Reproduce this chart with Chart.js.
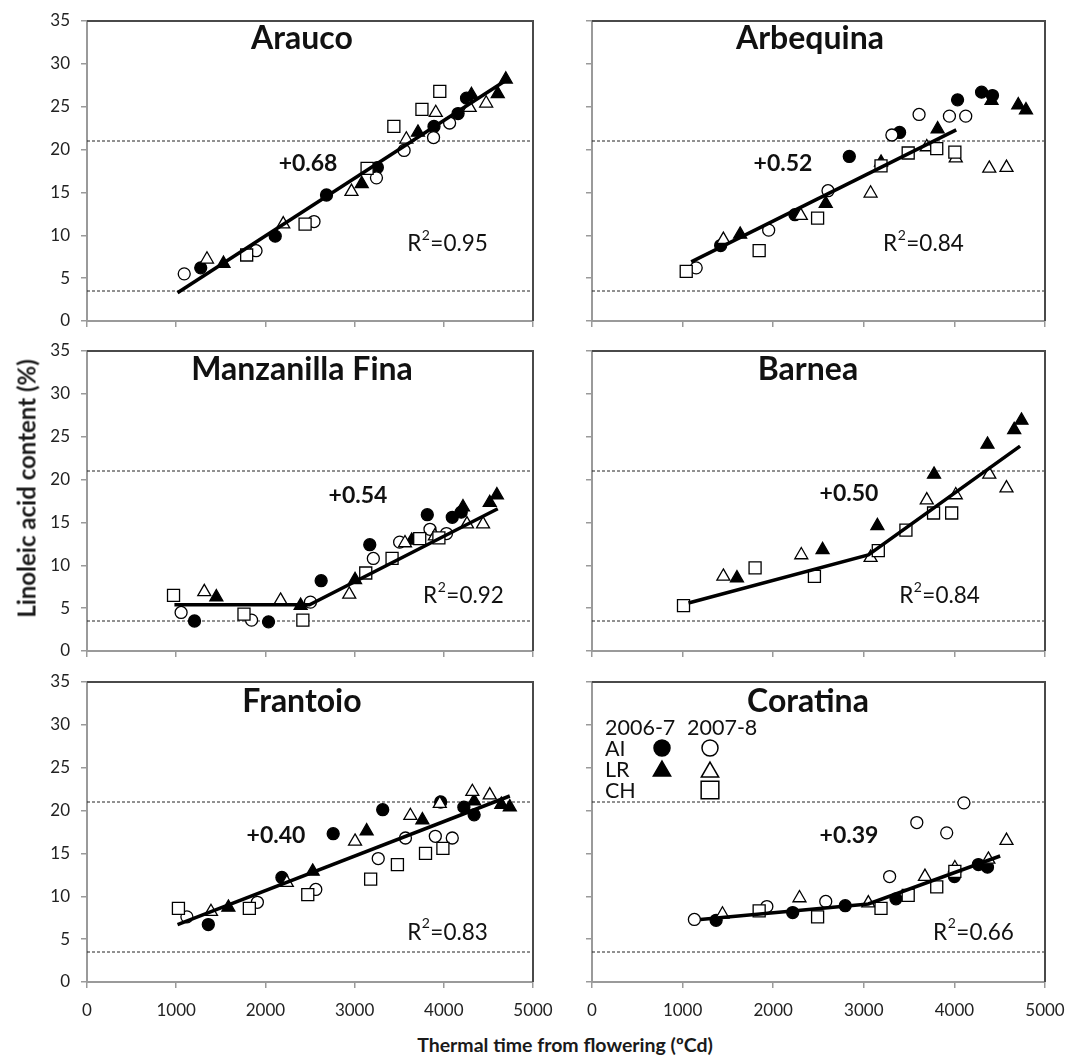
<!DOCTYPE html>
<html>
<head>
<meta charset="utf-8">
<script src="https://cdn.jsdelivr.net/npm/chart.js@4.4.0/dist/chart.umd.min.js"></script>
<style>
  body { margin: 0; background: #fff; font-family: Lato, sans-serif; }
  #page { position: relative; width: 1067px; height: 1064px; overflow: hidden; background: #fff; }
  #page canvas { position: absolute; }
  .axis-title { position: absolute; font-weight: bold; color: #1a1a1a; text-align: center; white-space: nowrap; }
  #ytitle { left: -174px; top: 474px; width: 400px; font-size: 24px; line-height: 29px; transform: rotate(-90deg); }
  #xtitle { left: 365px; top: 1033px; width: 400px; font-size: 19.5px; line-height: 24px; }
</style>
</head>
<body>
<div id="page">
  <canvas id="c0"></canvas>
  <canvas id="c1"></canvas>
  <canvas id="c2"></canvas>
  <canvas id="c3"></canvas>
  <canvas id="c4"></canvas>
  <canvas id="c5"></canvas>
  <div id="ytitle" class="axis-title">Linoleic acid content (%)</div>
  <div id="xtitle" class="axis-title">Thermal time from flowering (ºCd)</div>
</div>
<script>
// [thermal time ºCd, linoleic acid %]
// AI = filled/open circle, LR = filled/open triangle, CH = open square ; 06 = 2006-7, 07 = 2007-8

// Arauco
const araucoAI06 = [[1275,6.2],[2110,9.9],[2685,14.7],[3255,17.9],[3890,22.7],[4160,24.2],[4255,26.0]];
const araucoAI07 = [[1090,5.5],[1895,8.2],[2545,11.6],[3245,16.7],[3555,19.9],[3885,21.4],[4065,23.1]];
const araucoLR06 = [[1530,6.7],[3080,16.0],[3710,22.0],[4310,26.4],[4605,26.5],[4695,28.2]];
const araucoLR07 = [[1345,7.2],[2200,11.3],[2965,15.1],[3580,21.2],[3910,24.3],[4290,24.9],[4475,25.4]];
const araucoCH07 = [[1790,7.7],[2445,11.3],[3140,17.8],[3440,22.7],[3755,24.7],[3955,26.8]];
const araucoFit = [[1015,3.3],[4685,28.0]];

// Arbequina
const arbequinaAI06 = [[1420,8.8],[2240,12.4],[2840,19.2],[3395,22.0],[4035,25.8],[4300,26.7],[4420,26.3]];
const arbequinaAI07 = [[1150,6.2],[1950,10.6],[2605,15.2],[3310,21.7],[3610,24.1],[3945,23.9],[4125,23.9]];
const arbequinaLR06 = [[1635,10.1],[2580,13.7],[3190,18.5],[3815,22.4],[4410,25.7],[4705,25.2],[4790,24.6]];
const arbequinaLR07 = [[1450,9.5],[2305,12.3],[3075,14.9],[3695,20.3],[4015,19.0],[4385,17.8],[4575,17.9]];
const arbequinaCH07 = [[1040,5.8],[1845,8.2],[2490,12.0],[3190,18.1],[3490,19.6],[3805,20.1],[4005,19.7]];
const arbequinaFit = [[1095,6.9],[4020,22.3]];

// Manzanilla Fina
const manzanillaAI06 = [[1205,3.5],[2035,3.4],[2625,8.2],[3170,12.4],[3815,15.9],[4095,15.6],[4195,16.2]];
const manzanillaAI07 = [[1055,4.5],[1845,3.6],[2505,5.7],[3210,10.8],[3505,12.7],[3845,14.2],[4030,13.7]];
const manzanillaLR06 = [[1450,6.3],[2395,5.3],[3005,8.3],[3640,12.9],[4215,16.8],[4515,17.3],[4595,18.2]];
const manzanillaLR07 = [[1315,6.9],[2170,5.9],[2940,6.6],[3565,12.6],[3900,13.4],[4260,14.8],[4440,14.8]];
const manzanillaCH07 = [[970,6.5],[1760,4.3],[2420,3.6],[3125,9.1],[3420,10.8],[3730,13.1],[3945,13.2]];
const manzanillaFit = [[980,5.4],[2495,5.4],[4605,16.6]];

// Barnea
const barneaAI06 = [];
const barneaAI07 = [];
const barneaLR06 = [[1600,8.5],[2545,11.8],[3150,14.6],[3775,20.6],[4365,24.1],[4660,25.8],[4740,26.9]];
const barneaLR07 = [[1450,8.7],[2310,11.2],[3075,10.9],[3695,17.6],[4015,18.2],[4385,20.6],[4575,19.0]];
const barneaCH07 = [[1010,5.3],[1800,9.7],[2455,8.7],[3160,11.7],[3465,14.1],[3770,16.1],[3970,16.1]];
const barneaFit = [[1065,5.6],[3050,11.2],[4725,23.9]];

// Frantoio
const frantoioAI06 = [[1360,6.7],[2185,12.2],[2760,17.3],[3315,20.1],[3965,21.0],[4225,20.4],[4340,19.5]];
const frantoioAI07 = [[1120,7.6],[1910,9.3],[2565,10.8],[3265,14.4],[3570,16.8],[3905,17.0],[4095,16.8]];
const frantoioLR06 = [[1585,8.7],[2530,12.9],[3135,17.6],[3760,18.9],[4340,21.1],[4645,20.7],[4740,20.4]];
const frantoioLR07 = [[1390,8.2],[2240,11.6],[3005,16.4],[3625,19.4],[3955,20.8],[4320,22.2],[4515,21.8]];
const frantoioCH07 = [[1025,8.6],[1820,8.6],[2475,10.2],[3180,12.0],[3480,13.7],[3795,15.0],[3990,15.6]];
const frantoioFit = [[1015,6.7],[4740,21.7]];

// Coratina
const coratinaAI06 = [[1370,7.2],[2215,8.1],[2795,8.9],[3355,9.7],[4000,12.3],[4265,13.7],[4365,13.4]];
const coratinaAI07 = [[1130,7.3],[1930,8.8],[2580,9.4],[3285,12.3],[3585,18.6],[3915,17.4],[4105,20.9]];
const coratinaLR06 = [];
const coratinaLR07 = [[1440,7.9],[2290,9.8],[3050,9.2],[3675,12.3],[4005,13.3],[4375,14.3],[4575,16.5]];
const coratinaCH07 = [[1845,8.3],[2490,7.6],[3190,8.6],[3490,10.1],[3805,11.1],[4005,12.9]];
const coratinaFit = [[1195,7.3],[3050,9.1],[4505,14.7]];

const slopes = ['+0.68', '+0.52', '+0.54', '+0.50', '+0.40', '+0.39'];
const r2Values = ['0.95', '0.84', '0.92', '0.84', '0.83', '0.66'];
const xTicks = [0, 1000, 2000, 3000, 4000, 5000];
const yTicks = [0, 5, 10, 15, 20, 25, 30, 35];
const refLines = [21, 3.5];   // dashed horizontal reference levels

const panels = [
  { name: 'Arauco', series: [araucoAI06, araucoAI07, araucoLR06, araucoLR07, araucoCH07], fit: araucoFit,
    titleAt: [2410, 33.1], slopeAt: [2478, 18.5], r2At: [4036, 9.1] },
  { name: 'Arbequina', series: [arbequinaAI06, arbequinaAI07, arbequinaLR06, arbequinaLR07, arbequinaCH07], fit: arbequinaFit,
    titleAt: [2406, 33.1], slopeAt: [2108, 18.5], r2At: [3653, 9.1] },
  { name: 'Manzanilla Fina', series: [manzanillaAI06, manzanillaAI07, manzanillaLR06, manzanillaLR07, manzanillaCH07], fit: manzanillaFit,
    titleAt: [2410, 33.0], slopeAt: [3038, 18.2], r2At: [4215, 6.5] },
  { name: 'Barnea', series: [barneaAI06, barneaAI07, barneaLR06, barneaLR07, barneaCH07], fit: barneaFit,
    titleAt: [2384, 33.0], slopeAt: [2837, 18.5], r2At: [3830, 6.5] },
  { name: 'Frantoio', series: [frantoioAI06, frantoioAI07, frantoioLR06, frantoioLR07, frantoioCH07], fit: frantoioFit,
    titleAt: [2410, 32.8], slopeAt: [2119, 17.2], r2At: [4036, 5.9] },
  { name: 'Coratina', series: [coratinaAI06, coratinaAI07, coratinaLR06, coratinaLR07, coratinaCH07], fit: coratinaFit,
    titleAt: [2384, 32.8], slopeAt: [2837, 17.2], r2At: [4205, 5.9], legend: true }
];

// marker look for each series, same order as panel.series
const markerStyles = [
  { pointStyle: 'circle',   radius: 6,   fill: '#000' },
  { pointStyle: 'circle',   radius: 6,   fill: '#fff' },
  { pointStyle: 'triangle', radius: 7.5, fill: '#000' },
  { pointStyle: 'triangle', radius: 7.5, fill: '#fff' },
  { pointStyle: 'rect',     radius: 8.5, fill: '#fff' }
];

// plot-area placement of the 3x2 grid
const colLeft = [87, 592];
const colWidth = [446, 453];
const rowTop = [21, 351, 682];
const plotHeight = 300;
const padL = 60, padT = 15, padR = 30, padB = 45;

const toXY = arr => arr.map(p => ({ x: p[0], y: p[1] }));

// gray frame: top and right edges are darker than the axes
const framePlugin = {
  id: 'frame',
  afterDraw(chart) {
    const { ctx, chartArea: a } = chart;
    ctx.save();
    ctx.strokeStyle = '#4a4a4a';
    ctx.lineWidth = 2;
    ctx.beginPath();
    ctx.moveTo(a.left, a.top);
    ctx.lineTo(a.right, a.top);
    ctx.lineTo(a.right, a.bottom);
    ctx.stroke();
    ctx.restore();
  }
};

// text whose cap height is centred on cy
function capText(ctx, text, x, cy, size, weight) {
  ctx.font = (weight || '') + ' ' + size + 'px Lato';
  ctx.textBaseline = 'alphabetic';
  ctx.fillText(text, x, cy + size * 0.36);
}

// cultivar name, slope and R² labels
const labelPlugin = {
  id: 'labels',
  afterDraw(chart) {
    const p = chart.options.plugins.labels;
    const { ctx, scales: { x, y } } = chart;
    ctx.save();
    ctx.fillStyle = '#111';
    ctx.textAlign = 'center';

    capText(ctx, p.name, x.getPixelForValue(p.titleAt[0]), y.getPixelForValue(p.titleAt[1]), 32, 'bold');
    capText(ctx, p.slope, x.getPixelForValue(p.slopeAt[0]), y.getPixelForValue(p.slopeAt[1]), 23, 'bold');

    // R² with a raised 2
    const cx = x.getPixelForValue(p.r2At[0]), cy = y.getPixelForValue(p.r2At[1]);
    ctx.font = '22.5px Lato';
    const wR = ctx.measureText('R').width;
    const tail = '=' + p.r2;
    const wTail = ctx.measureText(tail).width;
    ctx.font = '14px Lato';
    const w2 = ctx.measureText('2').width;
    const left = cx - (wR + w2 + wTail) / 2;
    ctx.textAlign = 'left';
    capText(ctx, 'R', left, cy, 22.5);
    capText(ctx, '2', left + wR + 0.5, cy - 8, 14);
    capText(ctx, tail, left + wR + w2 + 1, cy, 22.5);

    if (p.legend) {
      const a = chart.chartArea;
      const lx = a.left + 13;
      capText(ctx, '2006-7', lx, a.top + 45, 21.5);
      capText(ctx, '2007-8', lx + 82, a.top + 45, 21.5);
      capText(ctx, 'AI', lx, a.top + 66, 21.5);
      capText(ctx, 'LR', lx, a.top + 87, 21.5);
      capText(ctx, 'CH', lx, a.top + 108, 21.5);
      const mk = (style, r, fill, px, py) => {
        ctx.fillStyle = fill;
        ctx.strokeStyle = '#000';
        ctx.lineWidth = 1.5;
        Chart.helpers.drawPoint(ctx, { pointStyle: style, radius: r, rotation: 0, borderWidth: 1.5 }, px, py);
      };
      mk('circle', 8, '#000', a.left + 70, a.top + 66);
      mk('circle', 8, '#fff', a.left + 118, a.top + 66);
      mk('triangle', 10, '#000', a.left + 70, a.top + 89);
      mk('triangle', 10, '#fff', a.left + 118, a.top + 90);
      mk('rect', 12.5, '#fff', a.left + 118, a.top + 108);
    }
    ctx.restore();
  }
};

panels.forEach((panel, i) => {
  const col = i % 2, row = Math.floor(i / 2);
  const canvas = document.getElementById('c' + i);
  const w = colWidth[col] + padL + padR, h = plotHeight + padT + padB;
  canvas.width = w;
  canvas.height = h;
  canvas.style.left = (colLeft[col] - padL) + 'px';
  canvas.style.top = (rowTop[row] - padT) + 'px';
  canvas.style.width = w + 'px';
  canvas.style.height = h + 'px';

  const datasets = [];
  // regression line on top
  datasets.push({
    data: toXY(panel.fit), showLine: true, borderColor: '#000', borderWidth: 3.5,
    pointRadius: 0, order: 0
  });
  panel.series.forEach((s, k) => {
    const m = markerStyles[k];
    datasets.push({
      data: toXY(s), pointStyle: m.pointStyle, pointRadius: m.radius,
      backgroundColor: m.fill, borderColor: '#000', borderWidth: 1.3, order: 5 - k
    });
  });
  refLines.forEach(v => {
    datasets.push({
      data: [{ x: xTicks[0], y: v }, { x: xTicks[xTicks.length - 1], y: v }],
      showLine: true, borderColor: '#222', borderWidth: 1, borderDash: [3, 2],
      pointRadius: 0, order: 10
    });
  });

  const showXLabels = row === 2;
  const showYLabels = col === 0;

  new Chart(canvas, {
    type: 'scatter',
    data: { datasets },
    options: {
      responsive: false,
      animation: false,
      devicePixelRatio: 1,
      layout: { padding: { left: 0, top: padT, right: padR, bottom: 0 } },
      plugins: {
        legend: { display: false },
        tooltip: { enabled: false },
        labels: {
          name: panel.name, slope: slopes[i], r2: r2Values[i],
          titleAt: panel.titleAt, slopeAt: panel.slopeAt, r2At: panel.r2At, legend: !!panel.legend
        }
      },
      scales: {
        x: {
          type: 'linear', min: xTicks[0], max: xTicks[xTicks.length - 1],
          afterBuildTicks: s => { s.ticks = xTicks.map(v => ({ value: v })); },
          ticks: {
            color: showXLabels ? '#222' : 'rgba(0,0,0,0)', font: { family: 'Lato', size: 17 },
            padding: 12, maxRotation: 0, callback: v => String(v)
          },
          grid: { drawOnChartArea: false, drawTicks: true, tickLength: 6, color: '#9a9a9a', lineWidth: 1.5 },
          border: { color: '#9a9a9a', width: 2 },
          // fixed size so every plot area lands on the same grid
          afterFit: s => { s.height = padB; s.paddingLeft = 0; s.paddingRight = 0; }
        },
        y: {
          type: 'linear', min: yTicks[0], max: yTicks[yTicks.length - 1],
          afterBuildTicks: s => { s.ticks = yTicks.map(v => ({ value: v })); },
          ticks: {
            color: showYLabels ? '#222' : 'rgba(0,0,0,0)', font: { family: 'Lato', size: 17 },
            padding: 11, callback: v => String(v)
          },
          grid: { drawOnChartArea: false, drawTicks: true, tickLength: 6, color: '#9a9a9a', lineWidth: 1.5 },
          border: { color: '#9a9a9a', width: 2 },
          afterFit: s => { s.width = padL; s.paddingTop = 0; s.paddingBottom = 0; }
        }
      }
    },
    plugins: [framePlugin, labelPlugin]
  });
});
</script>
</body>
</html>
